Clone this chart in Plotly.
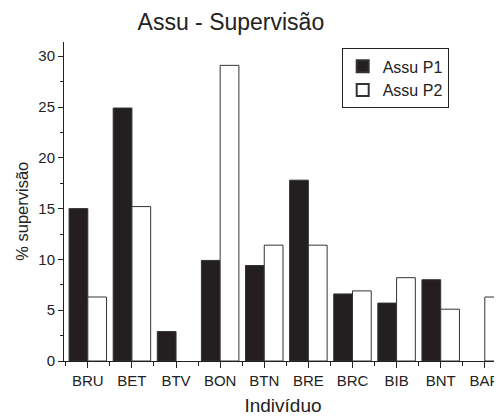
import plotly.graph_objects as go

individuos = ["BRU", "BET", "BTV", "BON", "BTN", "BRE", "BRC", "BIB", "BNT", "BAR"]
assu_p1 = [15.0, 24.9, 2.9, 9.9, 9.4, 17.8, 6.6, 5.7, 8.0, 0.0]
assu_p2 = [6.3, 15.2, 0.0, 29.1, 11.4, 11.4, 6.9, 8.2, 5.1, 6.3]

fig = go.Figure()

# no outline on empty bars, as in the original
fig.add_trace(
    go.Bar(
        x=individuos,
        y=assu_p1,
        name="Assu P1",
        marker_color="#231f20",
        marker_line_color="#333333",
        marker_line_width=[0 if v == 0 else 1 for v in assu_p1],
    )
)
fig.add_trace(
    go.Bar(
        x=individuos,
        y=assu_p2,
        name="Assu P2",
        marker_color="white",
        marker_line_color="#333333",
        marker_line_width=[0 if v == 0 else 1 for v in assu_p2],
    )
)

# invisible trace just to carry the boundary ticks on the second x axis
fig.add_trace(
    go.Bar(x=individuos, y=[0] * len(individuos), xaxis="x2",
           showlegend=False, hoverinfo="skip", marker_color="rgba(0,0,0,0)",
           marker_line_width=0)
)

fig.update_layout(
    width=502,
    height=417,
    margin=dict(l=56, r=8, t=34, b=64),
    plot_bgcolor="white",
    paper_bgcolor="white",
    font=dict(family="Liberation Sans, Arial, sans-serif", color="#222222", size=15),
    title=dict(text="Assu - Supervisão", x=0.444, xanchor="center", y=0.966,
               yanchor="middle", font=dict(size=23)),
    barmode="group",
    bargap=0.15,
    bargroupgap=0,
    legend=dict(
        x=0.634, y=0.98, xanchor="left", yanchor="top",
        bordercolor="#222222", borderwidth=1, bgcolor="white",
        font=dict(size=16), tracegroupgap=0, itemsizing="constant",
    ),
    xaxis=dict(
        type="category",
        categoryorder="array",
        categoryarray=individuos,
        range=[-0.54, 9.39],
        showline=True, linecolor="#222222", linewidth=1,
        ticks="outside", ticklen=6, tickcolor="#222222",
        showgrid=False, zeroline=False,
        tickfont=dict(size=15),
        title=dict(text="Indivíduo", font=dict(size=19), standoff=10),
    ),
    xaxis2=dict(
        type="category",
        categoryorder="array",
        categoryarray=individuos,
        range=[-0.54, 9.39],
        overlaying="x",
        anchor="y",
        side="bottom",
        tickson="boundaries",
        ticks="outside", ticklen=4, tickcolor="#222222",
        showticklabels=False, showgrid=False, showline=False, zeroline=False,
    ),
    yaxis=dict(
        range=[0, 31.4],
        tickvals=[0, 5, 10, 15, 20, 25, 30],
        showline=True, linecolor="#222222", linewidth=1,
        ticks="outside", ticklen=5, tickcolor="#222222",
        minor=dict(ticks="outside", ticklen=3, dtick=2.5, tick0=0, tickcolor="#222222"),
        showgrid=False, zeroline=False,
        tickfont=dict(size=15),
    ),
)

fig.add_annotation(
    text="% supervisão", textangle=-90,
    xref="paper", yref="paper", x=-0.0966, y=0.47,
    xanchor="center", yanchor="middle", showarrow=False,
    font=dict(size=16.5),
)

fig.write_html("out.html")
